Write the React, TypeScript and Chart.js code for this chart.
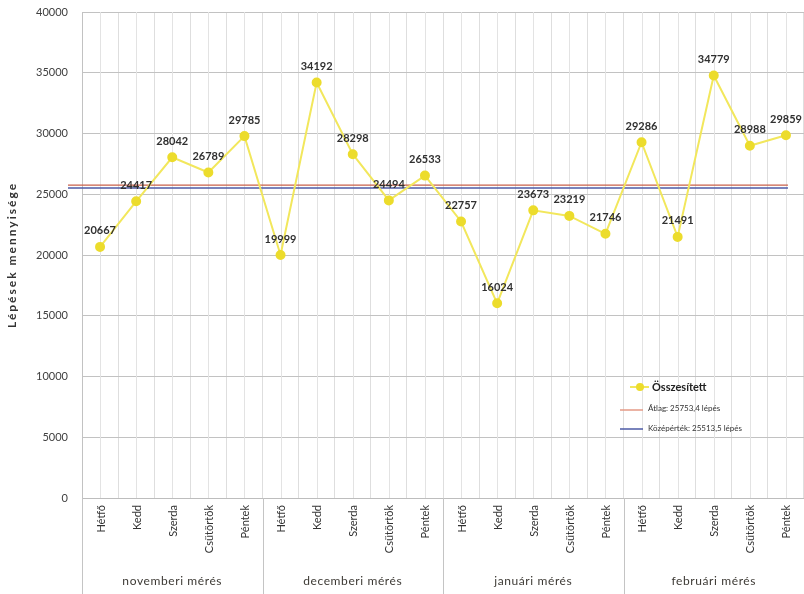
import { useEffect, useRef } from "react";
import { Chart, registerables } from "chart.js";

Chart.register(...registerables);

// Weekday names and the measurement months
const days = ["Hétfő", "Kedd", "Szerda", "Csütörtök", "Péntek"];
const months = ["novemberi mérés", "decemberi mérés", "januári mérés", "februári mérés"];

// Daily step counts per measurement month
const novemberSteps = [20667, 24417, 28042, 26789, 29785];
const decemberSteps = [19999, 34192, 28298, 24494, 26533];
const januarySteps = [22757, 16024, 23673, 23219, 21746];
const februarySteps = [29286, 21491, 34779, 28988, 29859];

// Reference values
const averageSteps = 25753.4;
const medianSteps = 25513.5;

// Y axis range
const yMin = 0;
const yMax = 40000;
const yStep = 5000;

const seriesName = "Összesített";
const yTitle = "Lépések mennyisége";

const FONT = "Lato, 'Liberation Sans', sans-serif";
const LINE_YELLOW = "#f2e75c";
const POINT_YELLOW = "#ecdc2c";
const AVG_COLOR = "#c8604a";
const MEDIAN_COLOR = "#4c5aa6";

const fmt = (v: number) => v.toFixed(1).replace(".", ",");

const allSteps = [...novemberSteps, ...decemberSteps, ...januarySteps, ...februarySteps];
const categoryLabels = months.flatMap(() => days.map((d) => `${d}`));

const decorPlugin = {
  id: "decor",
  beforeDatasetsDraw(chart: any) {
    const { ctx, chartArea, scales } = chart;
    const x = scales.x;
    const y = scales.y;
    ctx.save();
    // gridlines through each category centre
    ctx.strokeStyle = "#e3e3e3";
    ctx.lineWidth = 1;
    for (let i = 0; i < allSteps.length; i++) {
      const px = Math.round(x.getPixelForValue(i)) + 0.5;
      ctx.beginPath();
      ctx.moveTo(px, chartArea.top);
      ctx.lineTo(px, chartArea.bottom);
      ctx.stroke();
    }
    // average and median lines
    const x0 = chartArea.left - 14;
    const x1 = x.getPixelForValue(allSteps.length - 1) + 2;
    const refs: [number, string][] = [
      [averageSteps, AVG_COLOR],
      [medianSteps, MEDIAN_COLOR],
    ];
    for (const [v, c] of refs) {
      const py = y.getPixelForValue(v);
      ctx.strokeStyle = c;
      ctx.lineWidth = 1.3;
      ctx.beginPath();
      ctx.moveTo(x0, py);
      ctx.lineTo(x1, py);
      ctx.stroke();
    }
    ctx.restore();
  },
  afterDatasetsDraw(chart: any) {
    const { ctx, chartArea, scales } = chart;
    const x = scales.x;
    const meta = chart.getDatasetMeta(0);
    ctx.save();

    // value labels above the points
    ctx.fillStyle = "#303030";
    ctx.font = `bold 11px ${FONT}`;
    ctx.textAlign = "center";
    ctx.textBaseline = "middle";
    meta.data.forEach((pt: any, i: number) => {
      ctx.fillText(String(allSteps[i]), pt.x, pt.y - 16);
    });

    // weekday labels, rotated
    const half = (x.getPixelForValue(1) - x.getPixelForValue(0)) / 2;
    ctx.fillStyle = "#333333";
    ctx.font = `11px ${FONT}`;
    ctx.textAlign = "right";
    ctx.textBaseline = "middle";
    categoryLabels.forEach((lbl, i) => {
      const px = x.getPixelForValue(i);
      ctx.save();
      ctx.translate(px + 1, chartArea.bottom + 7);
      ctx.rotate(-Math.PI / 2);
      ctx.fillText(lbl, 0, 0);
      ctx.restore();
    });

    // month group separators and labels
    const H = chart.height;
    ctx.strokeStyle = "#c4c4c4";
    ctx.lineWidth = 1;
    for (let g = 0; g <= months.length; g++) {
      const px = Math.round(x.getPixelForValue(g * days.length) - half) + 0.5;
      ctx.beginPath();
      ctx.moveTo(px, chartArea.bottom);
      ctx.lineTo(px, H);
      ctx.stroke();
    }
    ctx.fillStyle = "#3d3a35";
    ctx.font = `12px ${FONT}`;
    ctx.textAlign = "center";
    ctx.textBaseline = "middle";
    (ctx as any).letterSpacing = "0.6px";
    months.forEach((m, g) => {
      const a = x.getPixelForValue(g * days.length);
      const b = x.getPixelForValue(g * days.length + days.length - 1);
      ctx.fillText(m, (a + b) / 2, chartArea.bottom + 83);
    });

    // y axis title
    ctx.save();
    ctx.font = `bold 12px ${FONT}`;
    (ctx as any).letterSpacing = "2px";
    ctx.fillStyle = "#333333";
    ctx.translate(12, (chartArea.top + chartArea.bottom) / 2);
    ctx.rotate(-Math.PI / 2);
    ctx.textAlign = "center";
    ctx.textBaseline = "middle";
    ctx.fillText(yTitle, 0, 0);
    ctx.restore();
    (ctx as any).letterSpacing = "0px";

    // legend inside the plot area
    const lx = chartArea.right - 184;
    const ly = chartArea.bottom - 111;
    ctx.strokeStyle = LINE_YELLOW;
    ctx.lineWidth = 2;
    ctx.beginPath();
    ctx.moveTo(lx + 10, ly);
    ctx.lineTo(lx + 29, ly);
    ctx.stroke();
    ctx.fillStyle = POINT_YELLOW;
    ctx.beginPath();
    ctx.arc(lx + 20, ly, 4, 0, Math.PI * 2);
    ctx.fill();
    ctx.fillStyle = "#222222";
    ctx.font = `bold 11px ${FONT}`;
    ctx.textAlign = "left";
    ctx.fillText(seriesName, lx + 32, ly);

    ctx.font = `8px ${FONT}`;
    ctx.fillStyle = "#333333";
    ctx.strokeStyle = "#e49a86";
    ctx.lineWidth = 1.5;
    ctx.beginPath();
    ctx.moveTo(lx, ly + 23);
    ctx.lineTo(lx + 23, ly + 23);
    ctx.stroke();
    ctx.fillText(`Átlag: ${fmt(averageSteps)} lépés`, lx + 28, ly + 21);

    ctx.strokeStyle = MEDIAN_COLOR;
    ctx.beginPath();
    ctx.moveTo(lx, ly + 42);
    ctx.lineTo(lx + 23, ly + 42);
    ctx.stroke();
    ctx.fillText(`Középérték: ${fmt(medianSteps)} lépés`, lx + 28, ly + 41);

    ctx.restore();
  },
};

export default function App() {
  const canvasRef = useRef<HTMLCanvasElement | null>(null);

  useEffect(() => {
    const canvas = canvasRef.current;
    if (!canvas) return;
    const chart = new Chart(canvas, {
      type: "line",
      data: {
        labels: categoryLabels,
        datasets: [
          {
            label: seriesName,
            data: allSteps,
            borderColor: LINE_YELLOW,
            backgroundColor: POINT_YELLOW,
            pointBackgroundColor: POINT_YELLOW,
            pointBorderColor: POINT_YELLOW,
            pointRadius: 4,
            borderWidth: 2,
            tension: 0,
          },
        ],
      },
      options: {
        responsive: false,
        animation: false,
        layout: { autoPadding: false, padding: { top: 12, right: 0, left: 0, bottom: 0 } },
        plugins: {
          legend: { display: false },
          tooltip: { enabled: false },
        },
        scales: {
          x: {
            type: "category",
            offset: true,
            grid: { offset: true, color: "#dedede", drawTicks: false },
            border: { color: "#bdbdbd" },
            ticks: { display: false },
            afterFit: (scale: any) => {
              scale.height = 96;
              scale.paddingLeft = 0;
              scale.paddingRight = 0;
            },
          },
          y: {
            min: yMin,
            max: yMax,
            ticks: {
              stepSize: yStep,
              padding: 14,
              color: "#404040",
              font: { family: FONT, size: 11 },
              callback: (v: any) => String(v),
            },
            grid: { color: "#c2c2c2", drawTicks: false },
            border: { color: "#c2c2c2" },
            afterFit: (scale: any) => {
              scale.width = 82;
              scale.paddingTop = 0;
              scale.paddingBottom = 0;
            },
          },
        },
      },
      plugins: [decorPlugin],
    });
    return () => chart.destroy();
  }, []);

  return (
    <div style={{ position: "fixed", left: 0, top: 0, width: 804, height: 594, background: "#ffffff" }}>
      <canvas ref={canvasRef} width={804} height={594} />
    </div>
  );
}
